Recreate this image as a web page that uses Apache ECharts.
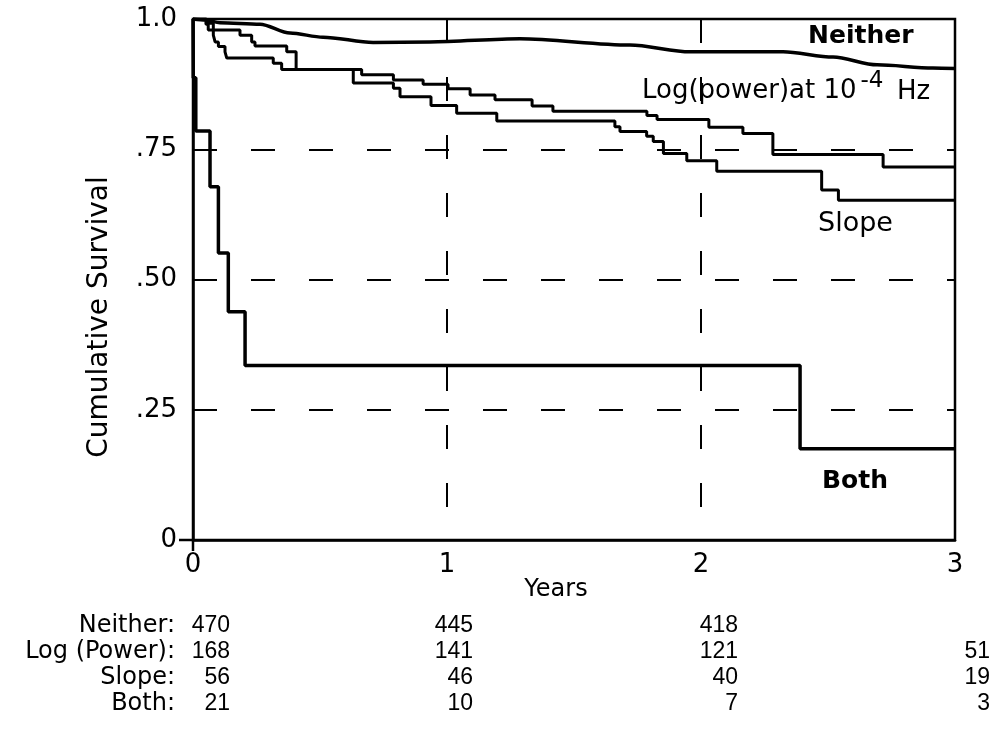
<!DOCTYPE html>
<html>
<head>
<meta charset="utf-8">
<script src="https://cdn.jsdelivr.net/npm/echarts@6/dist/echarts.min.js"></script>
<style>
  html, body { margin: 0; padding: 0; background: #fff; }
  #chart { width: 995px; height: 732px; }
</style>
</head>
<body>
<div id="chart"></div>
<script>
// ---- Data (years, cumulative survival) ----
const neitherT = [0, 0.05, 0.106, 0.264, 0.382, 0.512, 0.709, 0.933, 1.287, 1.720, 1.957, 2.323, 2.520, 2.693, 2.913, 3.0];
const neitherS = [1.0, 0.998, 0.993, 0.990, 0.973, 0.965, 0.955, 0.956, 0.962, 0.950, 0.937, 0.937, 0.927, 0.912, 0.906, 0.905];

const logT = [0, 0.051, 0.060, 0.185, 0.231, 0.244, 0.369, 0.406, 0.664, 0.789, 0.906, 1.004, 1.091, 1.189, 1.335, 1.417, 1.787, 1.827, 2.031, 2.165, 2.283, 2.717, 3.0];
const logS = [1.0, 0.990, 0.979, 0.969, 0.956, 0.948, 0.937, 0.903, 0.893, 0.883, 0.875, 0.866, 0.854, 0.845, 0.833, 0.823, 0.815, 0.807, 0.792, 0.780, 0.740, 0.716, 0.716];

const slopeT = [0, 0.054, 0.080, 0.087, 0.100, 0.126, 0.133, 0.316, 0.349, 0.631, 0.789, 0.815, 0.937, 1.038, 1.196, 1.661, 1.681, 1.786, 1.812, 1.852, 1.944, 2.062, 2.475, 2.541, 3.0];
const slopeS = [1.0, 0.992, 0.969, 0.956, 0.947, 0.937, 0.925, 0.915, 0.903, 0.877, 0.867, 0.851, 0.834, 0.819, 0.804, 0.793, 0.784, 0.775, 0.765, 0.742, 0.728, 0.708, 0.672, 0.652, 0.652];

const bothT = [0, 0.001, 0.011, 0.067, 0.100, 0.139, 0.205, 2.390, 3.0];
const bothS = [1.0, 0.887, 0.785, 0.678, 0.551, 0.438, 0.335, 0.175, 0.175];

// numbers at risk at 0,1,2,3 years
const riskLabels = ['Neither:', 'Log (Power):', 'Slope:', 'Both:'];
const riskNeither = [470, 445, 418, null];
const riskLog = [168, 141, 121, 51];
const riskSlope = [56, 46, 40, 19];
const riskBoth = [21, 10, 7, 3];

// curve labels
const curveLabels = ['Neither', 'Log(power)at 10', '-4', 'Hz', 'Slope', 'Both'];

function zip(t, s) { return t.map((x, i) => [x, s[i]]); }

const chart = echarts.init(document.getElementById('chart'), null, { renderer: 'canvas' });

const black = '#000';
const dash = { type: [24, 34], color: black, width: 2 };
const labelFont = '"DejaVu Sans", sans-serif';

function lineSeries(name, t, s, width, step) {
  return {
    name, type: 'line', data: zip(t, s), showSymbol: false, symbol: 'none',
    step: step ? 'end' : false,
    smooth: step ? false : 0.3,
    smoothMonotone: step ? undefined : 'x',
    lineStyle: { color: black, width },
    animation: false, z: 5
  };
}

const option = {
  backgroundColor: '#fff',
  animation: false,
  grid: { left: 193, top: 19, width: 762, height: 521, containLabel: false,
          show: true, borderColor: black, borderWidth: 2.5, backgroundColor: 'transparent' },
  xAxis: {
    type: 'value', min: 0, max: 3, interval: 1,
    axisLine: { show: true, onZero: false, lineStyle: { color: black, width: 2.5 } },
    axisTick: { show: false },
    axisLabel: { color: black, fontSize: 26, fontFamily: labelFont, margin: 12 },
    splitLine: { show: true, lineStyle: dash }
  },
  yAxis: {
    type: 'value', min: 0, max: 1, interval: 0.25,
    axisLine: { show: true, onZero: false, lineStyle: { color: black, width: 2.5 } },
    axisTick: { show: false },
    axisLabel: { color: black, fontSize: 26, fontFamily: labelFont, margin: 16,
      formatter: v => v === 0 ? '0' : (v === 1 ? '1.0' : '.' + String(Math.round(v * 100))) },
    splitLine: { show: true, lineStyle: dash }
  },
  series: [
    lineSeries('Neither', neitherT, neitherS, 3.5, false),
    lineSeries('Log(power)', logT, logS, 3, true),
    lineSeries('Slope', slopeT, slopeS, 3, true),
    lineSeries('Both', bothT, bothS, 3.5, true)
  ]
};

chart.setOption(option);

// ---- decorations: texts, at-risk table, origin ticks ----
const measureCtx = document.createElement('canvas').getContext('2d');
function textWidth(text, font) { measureCtx.font = font; return measureCtx.measureText(text).width; }

const graphics = [];
const origin = chart.convertToPixel({ gridIndex: 0 }, [0, 0]);
graphics.push({ type: 'line', shape: { x1: origin[0] - 14, y1: origin[1], x2: origin[0], y2: origin[1] },
  style: { stroke: black, lineWidth: 2.5 } });
graphics.push({ type: 'line', shape: { x1: origin[0], y1: origin[1], x2: origin[0], y2: origin[1] + 11 },
  style: { stroke: black, lineWidth: 2.5 } });

graphics.push({ type: 'text', x: 100, y: 317, rotation: Math.PI / 2,
  style: { text: 'Cumulative Survival', font: '28px ' + labelFont, fill: black, textAlign: 'center', textVerticalAlign: 'middle' } });
graphics.push({ type: 'text', x: 556, y: 590,
  style: { text: 'Years', font: '24px ' + labelFont, fill: black, textAlign: 'center', textVerticalAlign: 'middle' } });

graphics.push({ type: 'text', x: 808, y: 36, style: { text: curveLabels[0], font: 'bold 25px ' + labelFont, fill: black, textAlign: 'left', textVerticalAlign: 'middle' } });

const logFont = '26px ' + labelFont;
const supFont = '23px ' + labelFont;
const logX = 642;
const logW = textWidth(curveLabels[1], logFont);
const supX = logX + logW + 4;
const supW = textWidth(curveLabels[2], supFont);
graphics.push({ type: 'text', x: logX, y: 91, style: { text: curveLabels[1], font: logFont, fill: black, textAlign: 'left', textVerticalAlign: 'middle' } });
graphics.push({ type: 'text', x: supX, y: 81, style: { text: curveLabels[2], font: supFont, fill: black, textAlign: 'left', textVerticalAlign: 'middle' } });
graphics.push({ type: 'text', x: Math.max(supX + supW + 8, 897), y: 92, style: { text: curveLabels[3], font: '26px ' + labelFont, fill: black, textAlign: 'left', textVerticalAlign: 'middle' } });

graphics.push({ type: 'text', x: 818, y: 224, style: { text: curveLabels[4], font: '27px ' + labelFont, fill: black, textAlign: 'left', textVerticalAlign: 'middle' } });
graphics.push({ type: 'text', x: 822, y: 481, style: { text: curveLabels[5], font: 'bold 25px ' + labelFont, fill: black, textAlign: 'left', textVerticalAlign: 'middle' } });

const rowY = [626, 652, 678, 704];
const colX = [230, 473, 738, 990];
const rows = [riskNeither, riskLog, riskSlope, riskBoth];
rows.forEach((row, r) => {
  graphics.push({ type: 'text', x: 175, y: rowY[r],
    style: { text: riskLabels[r], font: '24px ' + labelFont, fill: black, textAlign: 'right', textVerticalAlign: 'middle' } });
  row.forEach((v, c) => {
    if (v == null) return;
    graphics.push({ type: 'text', x: colX[c], y: rowY[r],
      style: { text: String(v), font: '23px "Liberation Sans", Arial, sans-serif', fill: black, textAlign: 'right', textVerticalAlign: 'middle' } });
  });
});

chart.setOption({ graphic: { elements: graphics } });
</script>
</body>
</html>
